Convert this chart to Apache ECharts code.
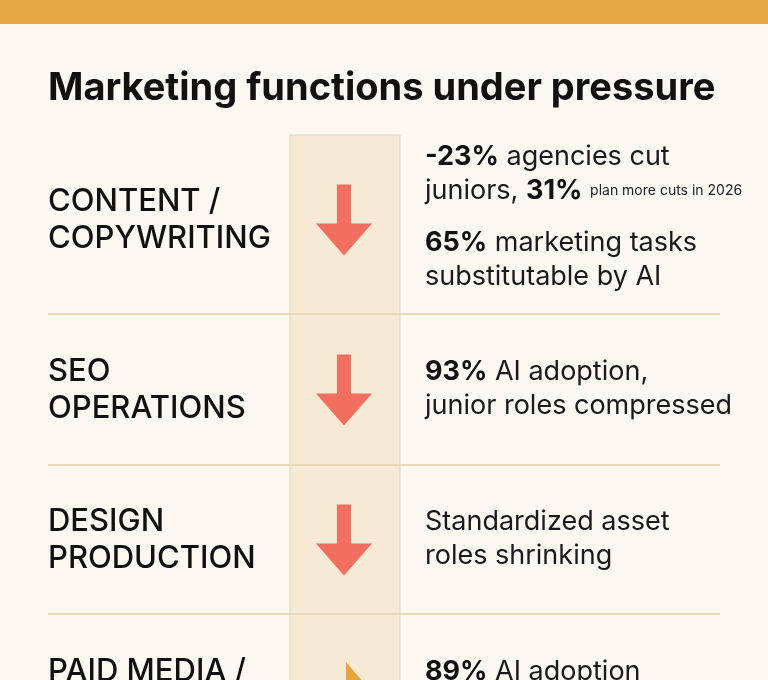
<!DOCTYPE html><html><head><meta charset="utf-8"><script src="https://cdn.jsdelivr.net/npm/echarts@6/dist/echarts.min.js"></script>
<style>html,body{margin:0;background:#FBF8F1}#c{width:768px;height:680px}</style></head><body><div id="c"></div><script>
const title = "Marketing functions under pressure";
const categories = [["CONTENT /","COPYWRITING"],["SEO","OPERATIONS"],["DESIGN","PRODUCTION"],["PAID MEDIA /",""]];
const rowCenters = [220, 390, 540, 690];
const trend = ["down","down","down","flat"];
const notes = [
 ["{b|-23%} agencies cut","juniors, {b|31%} {s|plan more cuts in 2026}","{g|}","{b|65%} marketing tasks","substitutable by AI"],
 ["{b|93%} AI adoption,","junior roles compressed"],
 ["Standardized asset","roles shrinking"],
 ["{b|89%} AI adoption",""]
];
const noteTop = [140, 355, 505, 655];
const dividers = [314, 465, 614];
const downPath = 'path://M21,0 L35,0 L35,39 L56,39 L28,71 L0,39 L21,39 Z';
const rightPath = 'path://M0,0 L40,30 L0,60 Z';
const F = 'Inter, Roboto, sans-serif';
const chart = echarts.init(document.getElementById('c'));
const g = [
 {type:'rect',shape:{x:0,y:0,width:768,height:24},style:{fill:'#E8A845'}},
 {type:'rect',shape:{x:290,y:135,width:110,height:560},style:{fill:'#F6EAD5',stroke:'#E5D3B2',lineWidth:1}},
 {type:'text',left:48,top:70,style:{text:title,font:'bold 38px '+F,fill:'#111'}}
];
dividers.forEach(y=>g.push({type:'line',shape:{x1:48,y1:y,x2:720,y2:y},style:{stroke:'#E0D2AE',lineWidth:1.5},z:5}));
categories.forEach((c,i)=>g.push({type:'text',left:48,top:rowCenters[i]-37,style:{text:c.join('\n'),font:'500 31px '+F,fill:'#111',lineHeight:37}}));
notes.forEach((n,i)=>g.push({type:'text',left:425,top:noteTop[i],style:{text:n.join('\n'),font:'27px '+F,fill:'#1a1a1a',lineHeight:34,
 rich:{b:{font:'bold 27px '+F,fill:'#111',lineHeight:34},s:{font:'14px '+F,fill:'#222',lineHeight:34},g:{lineHeight:18,height:18}}}}));
chart.setOption({
 animation:false,
 grid:{left:0,right:0,top:0,bottom:0},
 xAxis:{type:'value',min:0,max:768,show:false},
 yAxis:{type:'value',min:0,max:680,inverse:true,show:false},
 graphic:g,
 series:[{type:'scatter',z:10,clip:false,
  data:trend.map((t,i)=>({value:[t==='down'?344:358,rowCenters[i]],
   symbol:t==='down'?downPath:rightPath,symbolSize:t==='down'?[56,71]:[24,56],
   itemStyle:{color:t==='down'?'#F26E5E':'#E8A33D',opacity:1}}))}]
});
</script></body></html>
